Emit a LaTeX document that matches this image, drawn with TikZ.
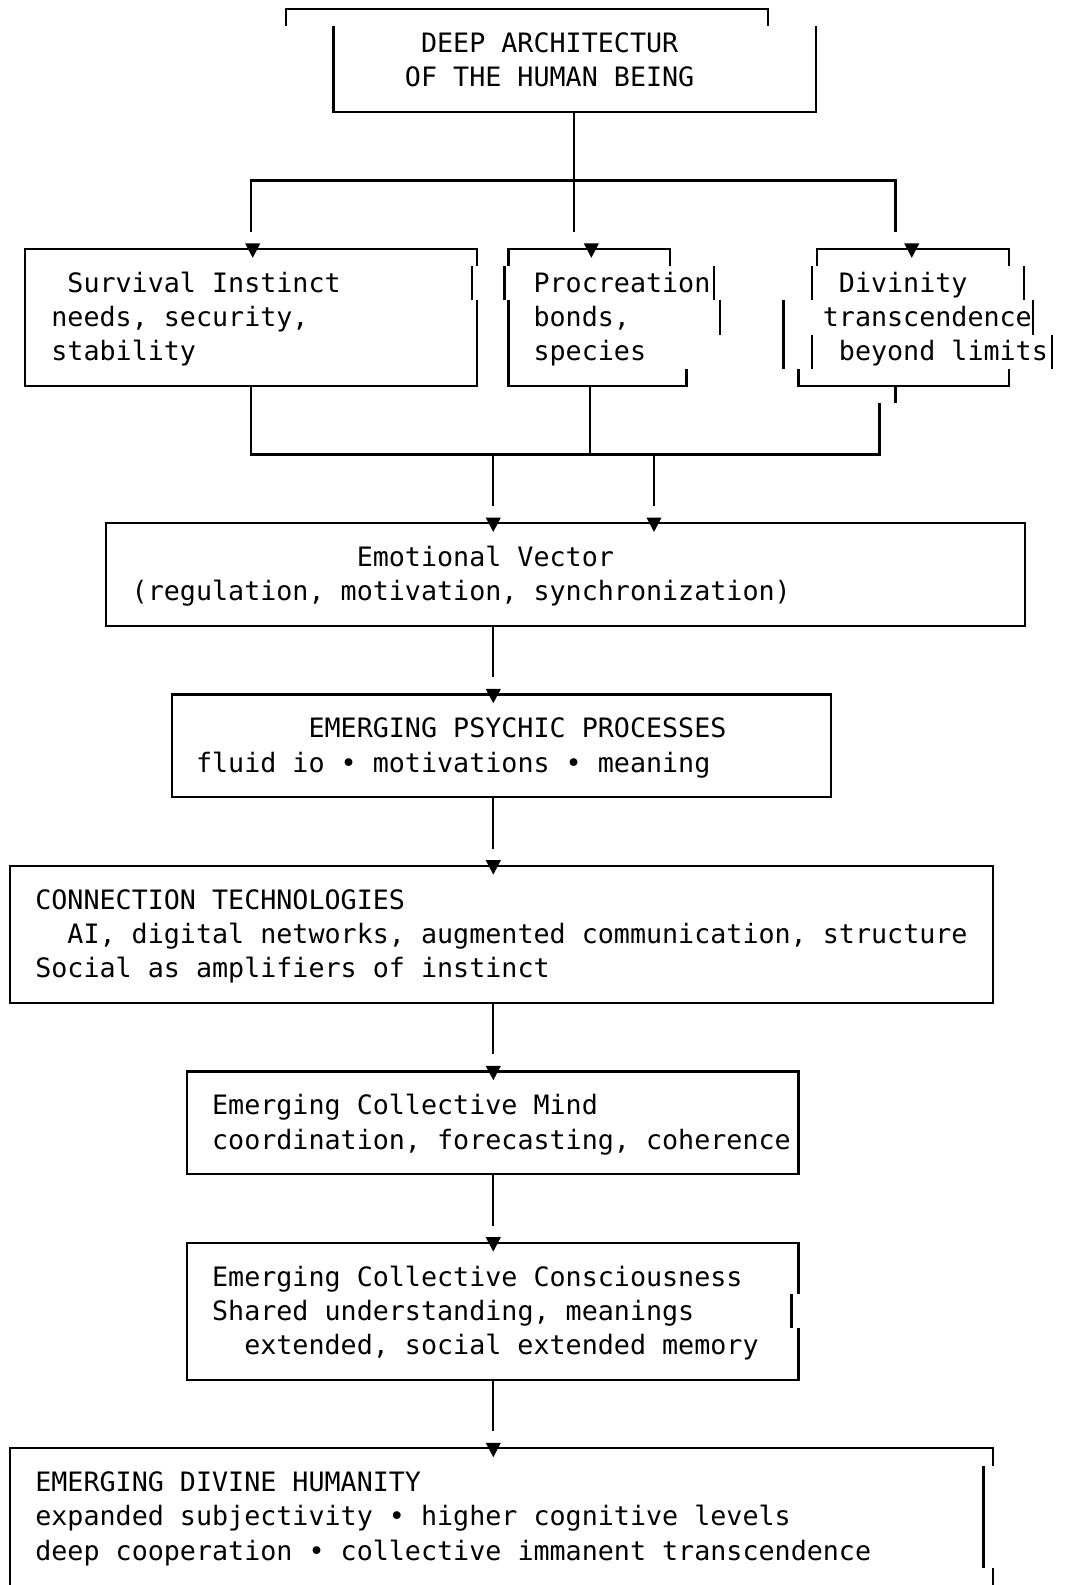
\documentclass[tikz,border=0pt]{standalone}
\usepackage{fontspec}
\newfontfamily\asciifont{DejaVu Sans Mono}
\newlength\chw
\setlength\chw{11.925pt}
\newcommand\skipch[1]{\hspace*{#1\chw}}

\begin{document}
\begin{tikzpicture}[x=0.75pt, y=-0.75pt, line width=1.7pt,
		every node/.style={font=\asciifont\fontsize{19.81pt}{25.43pt}\selectfont, inner sep=0pt, anchor=base west, align=left},
		pics/drop/.style={code={\fill (-7.5,-5.5) -- (7.5,-5.5) -- (0,8.7) -- cycle;}}]
	\path[fill=white] (0,0) rectangle (1056,1568);
	\useasboundingbox (0,0) rectangle (1056,1568);

	% texts (placed by the baseline of their last line)
	\node (deep) at (399.5,85.8) {\skipch{1}DEEP ARCHITECTUR\\OF THE HUMAN BEING};
	\node (survival) at (49.7,357) {\skipch{1}Survival Instinct\\needs, security,\\stability};
	\node (procreation) at (526.7,357) {Procreation\\bonds,\\species};
	\node (divinity) at (812.9,357) {\skipch{1}Divinity\\transcendence\\\skipch{1}beyond limits};
	\node (emotion) at (129.2,594.3) {\skipch{14}Emotional Vector\\(regulation, motivation, synchronization)};
	\node (psychic) at (192.8,763.8) {\skipch{7}EMERGING PSYCHIC PROCESSES\\fluid io • motivations • meaning};
	\node (connect) at (33.8,967.2) {CONNECTION TECHNOLOGIES\\\skipch{2}AI, digital networks, augmented communication, structure\\Social as amplifiers of instinct};
	\node (mind) at (208.7,1136.7) {Emerging Collective Mind\\coordination, forecasting, coherence};
	\node (conscious) at (208.7,1340.1) {Emerging Collective Consciousness\\Shared understanding, meanings\\\skipch{2}extended, social extended memory};
	\node (divine) at (33.8,1543.5) {EMERGING DIVINE HUMANITY\\expanded subjectivity • higher cognitive levels\\deep cooperation • collective immanent transcendence};

	% frames, drawn as the text art has them
	\draw (283,26) |- (760,9) -- (760,26);
	\draw (330,26) |- (807,110.7) -- (807,26);
	\draw (472,263.3) |- (25,246.3) -- (25,381.9) -| (472,297.2);
	\draw (467,263.3) -- (467,297.2);
	\draw (503,263.3) |- (663,246.3) -- (663,263.3);
	\draw (499,263.3) -- (499,297.2);
	\draw (706,263.3) -- (706,297.2);
	\draw (503,297.2) |- (679,381.9) -- (679,365);
	\draw (712,297.2) -- (712,331.1);
	\draw (808,263.3) |- (998,246.3) -- (998,263.3);
	\draw (803,263.3) -- (803,297.2);
	\draw (1013,263.3) -- (1013,297.2);
	\draw (775,297.2) -- (775,365);
	\draw (1022,297.2) -- (1022,331.1);
	\draw (803,331.1) -- (803,365);
	\draw (1041,331.1) -- (1041,365);
	\draw (790,365) |- (998,381.9) -- (998,365);
	\draw (105,517.5) rectangle (1014,619.2);
	\draw (170,687) rectangle (822,788.7);
	\draw (10,856.5) rectangle (982,992.1);
	\draw (185,1059.9) rectangle (790,1161.6);
	\draw (790,1280.3) |- (185,1229.4) |- (790,1365) -- (790,1314.1);
	\draw (783,1280.3) -- (783,1314.1);
	\draw (10,1568) |- (982,1432.8) -- (982,1449.8);
	\draw (973,1449.8) -- (973,1551.4);
	\draw (982,1551.4) -- (982,1568);

	% connector ends
	\coordinate (deep-s) at (568,110.7);
	\coordinate (fork) at (568,178.5);
	\coordinate (surv-e) at (248,229.4);
	\coordinate (proc-e) at (568,229.4);
	\coordinate (div-e) at (886,229.4);
	\coordinate (surv-s) at (248,381.9);
	\coordinate (proc-s) at (584,381.9);
	\coordinate (div-s) at (886,381.9);
	\coordinate (div-t) at (886,398.9);
	\coordinate (div-l) at (870,398.9);
	\coordinate (join) at (584,449.7);
	\coordinate (emo-a) at (488,449.7);
	\coordinate (emo-ae) at (488,500.6);
	\coordinate (emo-b) at (647,449.7);
	\coordinate (emo-be) at (647,500.6);
	\coordinate (emo-s) at (488,619.2);
	\coordinate (psy-e) at (488,670.1);
	\coordinate (psy-s) at (488,788.7);
	\coordinate (con-e) at (488,839.6);
	\coordinate (con-s) at (488,992.1);
	\coordinate (mind-e) at (488,1043);
	\coordinate (mind-s) at (488,1161.6);
	\coordinate (cons-e) at (488,1212.4);
	\coordinate (cons-s) at (488,1365);
	\coordinate (div-e2) at (488,1415.9);

	% connectors
	\draw (deep-s) -- (proc-e);
	\draw (surv-e) |- (fork) -| (div-e);
	\draw (surv-s) |- (join) -| (div-l);
	\draw (proc-s) -- (join);
	\draw (div-s) -- (div-t);
	\draw (emo-a) -- (emo-ae);
	\draw (emo-b) -- (emo-be);
	\draw (emo-s) -- (psy-e);
	\draw (psy-s) -- (con-e);
	\draw (con-s) -- (mind-e);
	\draw (mind-s) -- (cons-e);
	\draw (cons-s) -- (div-e2);

	% arrow heads on the box tops
	\pic at (250,246.3) {drop};
	\pic at (585,246.3) {drop};
	\pic at (902,246.3) {drop};
	\pic at (488,517.5) {drop};
	\pic at (647,517.5) {drop};
	\pic at (488,687) {drop};
	\pic at (488,856.5) {drop};
	\pic at (488,1059.9) {drop};
	\pic at (488,1229.4) {drop};
	\pic at (488,1432.8) {drop};
\end{tikzpicture}
\end{document}
